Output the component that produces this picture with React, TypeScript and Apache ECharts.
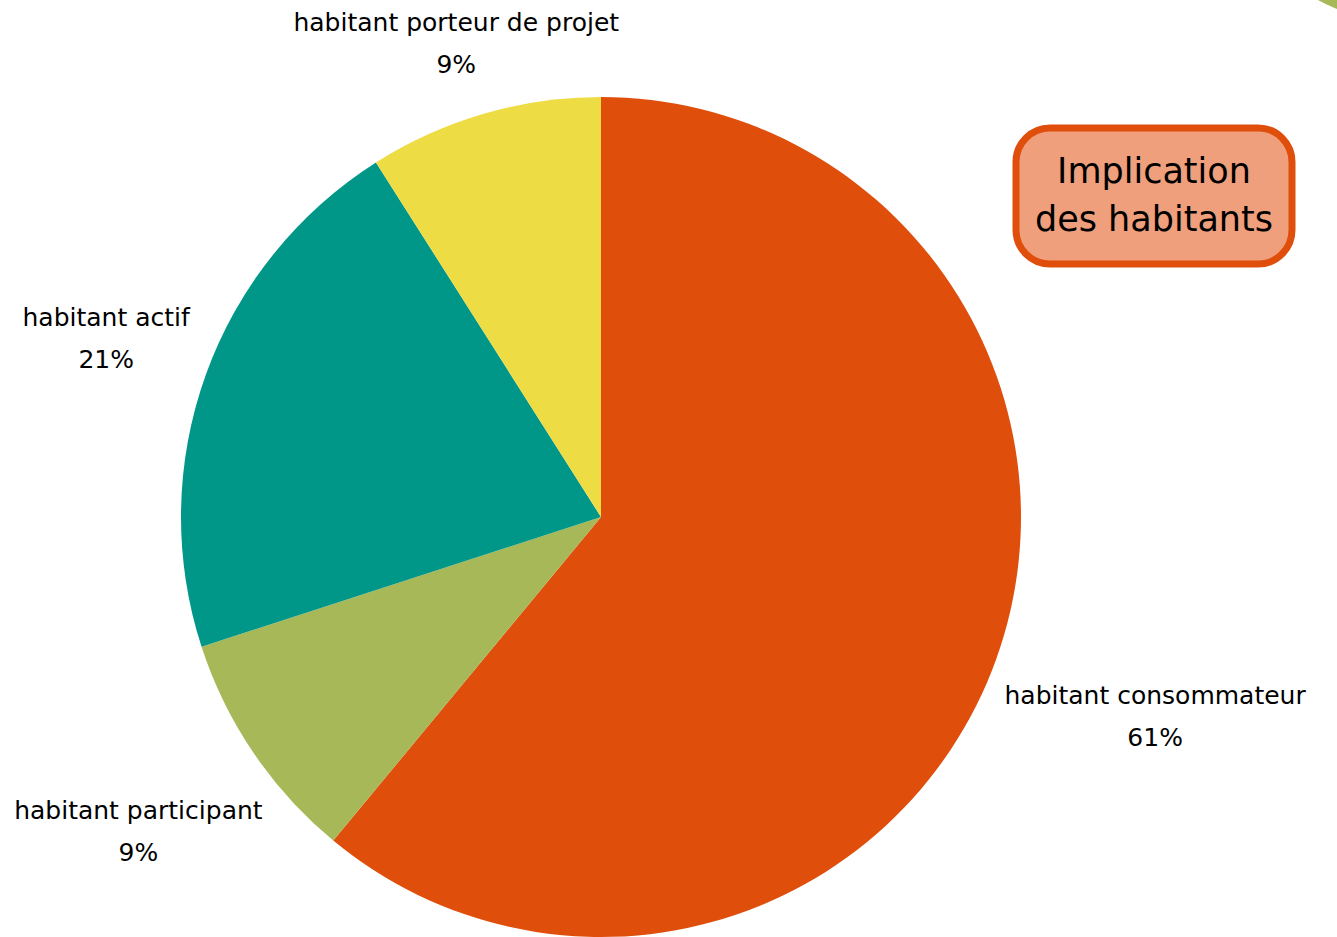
import React, { useEffect, useRef } from "react";
import * as echarts from "echarts";

const categories = [
  "habitant consommateur",
  "habitant participant",
  "habitant actif",
  "habitant porteur de projet",
];
const values = [61, 9, 21, 9];
const colors = ["#E04E0C", "#A7B858", "#009688", "#EEDC45"];
const titleLines = ["Implication", "des habitants"];

const W = 1337;
const H = 937;
const CX = 601;
const CY = 517;
const R = 420;
const FONT = "'DejaVu Sans', sans-serif";

export default function App() {
  const ref = useRef<HTMLDivElement>(null);
  useEffect(() => {
    if (!ref.current) return;
    const chart = echarts.init(ref.current, undefined, { renderer: "svg" });
    const total = values.reduce((a, b) => a + b, 0);
    const midAngles: number[] = [];
    let acc = 0;
    values.forEach((v) => {
      const a0 = (acc / total) * Math.PI * 2;
      acc += v;
      const a1 = (acc / total) * Math.PI * 2;
      midAngles.push((a0 + a1) / 2);
    });
    const gap = 13;
    const margin = 1;
    chart.setOption({
      animation: false,
      backgroundColor: "#ffffff",
      graphic: [
        {
          type: "circle",
          shape: { cx: 1400, cy: -150, r: 171 },
          style: { fill: "#A7B858" },
          silent: true,
        },
        {
          type: "rect",
          shape: { x: 1016, y: 128, width: 276, height: 136, r: 34 },
          style: { fill: "#EF9F7B", stroke: "#E04E0C", lineWidth: 7 },
          z: 10,
        },
        {
          type: "text",
          x: 1154,
          y: 195,
          style: {
            text: titleLines.join("\n"),
            fill: "#000000",
            font: `35px ${FONT}`,
            lineHeight: 48,
            align: "center",
            verticalAlign: "middle",
          },
          z: 11,
        },
      ],
      series: [
        {
          type: "pie",
          center: [CX, CY],
          radius: R,
          startAngle: 90,
          clockwise: true,
          data: categories.map((name, i) => ({
            name,
            value: values[i],
            itemStyle: { color: colors[i] },
          })),
          label: {
            show: true,
            position: "outside",
            formatter: "{b}\n{d}%",
            fontFamily: FONT,
            fontSize: 25,
            lineHeight: 42,
            color: "#000000",
            align: "center",
            overflow: "none",
          },
          labelLine: { show: false },
          labelLayout: (params: any) => {
            const i = params.dataIndex;
            const a = midAngles[i];
            const dx = Math.sin(a);
            const dy = -Math.cos(a);
            const w = params.labelRect.width;
            const h = params.labelRect.height;
            const d = R + gap + Math.abs(dx) * (w / 2) + Math.abs(dy) * (h / 2);
            let x = CX + dx * d;
            let y = CY + dy * d;
            x = Math.min(Math.max(x, w / 2 + 2), W - w / 2 - 2);
            y = Math.min(Math.max(y, h / 2 + margin), H - h / 2 - margin);
            return { x, y, align: "center", verticalAlign: "middle" };
          },
          emphasis: { disabled: true },
        },
      ],
    });
    return () => chart.dispose();
  }, []);
  return (
    <div
      ref={ref}
      style={{ position: "absolute", left: 0, top: 0, width: W, height: H }}
    />
  );
}
